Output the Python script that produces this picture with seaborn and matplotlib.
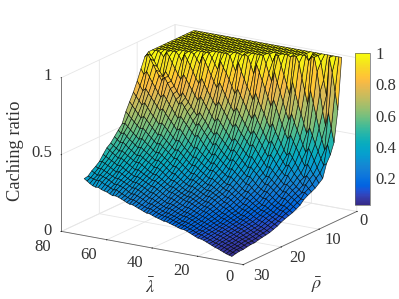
import numpy as np
import matplotlib
matplotlib.use("Agg")
import matplotlib.pyplot as plt
import seaborn as sns
from matplotlib.cm import ScalarMappable
from matplotlib.colors import Normalize

lambda_values = [5, 6.25, 7.5, 8.75, 10, 11.25, 12.5, 13.75, 15, 16.25, 17.5, 18.75, 20, 21.25, 22.5, 23.75, 25,
                 26.25, 27.5, 28.75, 30, 31.25, 32.5, 33.75, 35, 36.25, 37.5, 38.75, 40, 41.25, 42.5, 43.75, 45,
                 46.25, 47.5, 48.75, 50, 51.25, 52.5, 53.75, 55, 56.25, 57.5, 58.75, 60, 61.25, 62.5, 63.75, 65,
                 66.25, 67.5, 68.75, 70]
rho_values = list(range(1, 31))

# one row per rho, one column per lambda
# rows near the top stop early: the rest of the row sits on the plateau at 1
caching_ratio = [
    [1],
    [.67, .79, .91, 1, .75, .85, .96, 1, 1, 1, .93],
    [.47, .56, .66, .57, .66, .78, .91, 1, 1, .97],
    [.40, .465, .425, .49, .56, .64, .72, .80, .705, .79, .87, .96, 1, 1, .99],
    [.355, .34, .38, .425, .47, .52, .57, .53, .59, .65, .71, .78, .85, .76, .82, .88, .94, 1, 1, .95],
    [.27, .30, .335, .375, .415, .45, .42, .465, .51, .555, .60, .655, .61, .66, .72, .78, .84, .91, .84, .89, .95],
    [.25, .28, .30, .33, .36, .345, .38, .42, .455, .49, .53, .50, .54, .59, .635, .69, .74, .695, .75, .80, .85, .90, .95, .885, .94, .99, 1, .99],
    [.23, .25, .28, .30, .285, .31, .34, .37, .40, .43, .41, .44, .48, .515, .55, .60, .57, .61, .655, .69, .73, .78, .73, .775, .81, .855, .90, .955, .895, .94, .99],
    [.217, .235, .256, .25, .273, .292, .313, .339, .365, .354, .38, .405, .434, .465, .50, .483, .517, .55, .585, .62, .657, .622, .653, .69, .725, .76, .80, .766, .81, .85, .89, .92, .96, .90, .935, .97],
    [.205, .221, .216, .234, .248, .267, .284, .312, .308, .327, .347, .373, .40, .426, .413, .44, .476, .504, .532, .561, .538, .566, .595, .625, .655, .691, .663, .693, .724, .761, .798, .836, .798, .834, .873, .912, .952, .987, .932, .961, .99],
    [.19, .19, .205, .22, .237, .252, .269, .265, .284, .304, .322, .342, .362, .357, .382, .407, .433, .46, .486, .473, .50, .522, .544, .572, .60, .579, .607, .636, .665, .694, .725, .695, .724, .755, .786, .822, .859, .82, .852, .889, .926, .96, .993, .946, .979],
    [.165, .178, .194, .206, .219, .234, .232, .247, .263, .279, .296, .315, .31, .33, .354, .374, .398, .423, .416, .436, .457, .478, .50, .521, .503, .53, .556, .581, .607, .632, .61, .637, .666, .694, .724, .753, .726, .755, .785, .815, .846, .877, .842, .872, .904, .938, .975, 1, .968, .99, 1, 1, 1],
    [.152, .164, .176, .19, .206, .204, .216, .231, .247, .262, .278, .276, .295, .314, .333, .351, .371, .364, .383, .403, .423, .443, .463, .451, .471, .492, .513, .534, .556, .538, .56, .586, .614, .638, .664, .642, .668, .693, .719, .745, .773, .747, .776, .805, .835, .862, .891, .856, .884, .914, .946, .977, 1],
    [.139, .151, .163, .175, .175, .187, .199, .214, .229, .244, .243, .256, .268, .286, .305, .324, .321, .339, .358, .377, .397, .414, .403, .42, .438, .457, .478, .499, .486, .509, .533, .557, .582, .608, .591, .618, .644, .67, .697, .726, .709, .738, .77, .801, .834, .867, .843, .872, .903, .936, .972, 1, .977],
    [.131, .142, .154, .156, .167, .176, .186, .2, .215, .214, .226, .239, .251, .269, .287, .287, .305, .32, .336, .352, .369, .362, .379, .394, .412, .428, .446, .435, .453, .475, .497, .521, .546, .535, .558, .58, .603, .625, .649, .634, .66, .687, .713, .743, .769, .75, .778, .807, .835, .867, .901, .878, .912],
    [.122, .131, .134, .143, .152, .161, .172, .184, .185, .197, .209, .224, .239, .254, .254, .269, .284, .299, .315, .331, .327, .34, .353, .369, .385, .402, .395, .411, .428, .444, .461, .482, .474, .494, .514, .537, .561, .583, .571, .595, .62, .641, .666, .692, .679, .703, .726, .751, .776, .804, .787, .815, .844],
    [.112, .115, .125, .134, .144, .154, .164, .166, .178, .189, .201, .213, .225, .227, .242, .254, .266, .281, .296, .293, .306, .321, .337, .353, .368, .362, .375, .388, .402, .417, .434, .43, .449, .465, .482, .502, .523, .515, .535, .556, .577, .597, .615, .605, .627, .65, .672, .699, .725, .71, .734, .758, .783],
    [.098, .107, .117, .125, .135, .145, .147, .158, .169, .178, .187, .199, .201, .215, .229, .241, .253, .268, .27, .282, .294, .306, .319, .331, .328, .341, .354, .366, .38, .395, .391, .406, .422, .441, .459, .476, .47, .487, .504, .521, .539, .556, .549, .569, .59, .612, .633, .653, .64, .662, .686, .708, .732],
    [.089, .098, .107, .116, .125, .13, .139, .148, .159, .169, .179, .181, .193, .204, .217, .229, .242, .243, .257, .268, .279, .29, .302, .30, .311, .323, .334, .346, .358, .355, .37, .385, .40, .416, .433, .431, .449, .464, .48, .495, .512, .505, .521, .538, .556, .574, .592, .585, .603, .621, .64, .66, .679],
    [.08, .089, .098, .107, .111, .12, .13, .139, .149, .158, .16, .169, .179, .192, .205, .219, .223, .236, .25, .259, .27, .28, .278, .288, .299, .309, .32, .331, .327, .339, .353, .367, .382, .397, .395, .411, .427, .44, .454, .469, .463, .477, .493, .507, .523, .539, .531, .547, .563, .581, .6, .618, .61],
    [.075, .084, .094, .098, .107, .117, .125, .134, .144, .147, .156, .166, .176, .188, .2, .204, .216, .228, .241, .249, .259, .257, .267, .276, .286, .295, .305, .302, .312, .323, .335, .348, .364, .364, .378, .393, .408, .421, .434, .429, .443, .456, .469, .482, .497, .49, .505, .52, .534, .551, .57, .563, .582],
    [.071, .079, .086, .094, .103, .112, .121, .129, .133, .141, .15, .158, .167, .178, .182, .193, .204, .216, .227, .236, .236, .245, .254, .263, .272, .281, .28, .289, .299, .31, .322, .334, .335, .348, .362, .376, .39, .401, .399, .413, .424, .435, .448, .46, .454, .467, .482, .494, .51, .524, .519, .535, .551],
    [.066, .072, .081, .09, .098, .107, .117, .12, .129, .137, .145, .153, .162, .166, .176, .187, .197, .208, .218, .219, .228, .236, .246, .254, .264, .263, .271, .279, .288, .298, .308, .308, .321, .333, .345, .357, .37, .369, .379, .39, .403, .415, .428, .425, .434, .447, .459, .471, .483, .479, .494, .507, .521],
    [.059, .067, .077, .085, .094, .104, .108, .116, .123, .13, .138, .145, .148, .158, .168, .178, .189, .199, .202, .211, .22, .228, .237, .246, .246, .255, .262, .271, .279, .288, .289, .30, .311, .321, .333, .345, .344, .355, .365, .374, .385, .395, .392, .404, .415, .427, .439, .451, .448, .462, .474, .488, .502],
    [.059, .067, .075, .083, .091, .096, .104, .111, .118, .126, .134, .137, .145, .154, .163, .172, .181, .184, .193, .201, .209, .217, .225, .225, .233, .24, .249, .257, .266, .265, .276, .285, .297, .307, .319, .32, .331, .34, .349, .358, .367, .364, .374, .384, .395, .407, .419, .416, .429, .439, .449, .459, .47],
    [.055, .063, .071, .078, .084, .092, .10, .106, .114, .122, .125, .132, .14, .147, .156, .164, .168, .176, .185, .191, .2, .208, .209, .216, .224, .232, .239, .245, .245, .253, .263, .272, .284, .294, .295, .306, .317, .326, .334, .343, .342, .35, .359, .37, .38, .392, .387, .398, .409, .419, .429, .438, .435],
    [.05, .058, .066, .072, .079, .087, .095, .102, .11, .114, .121, .128, .135, .143, .152, .155, .164, .172, .18, .187, .195, .195, .201, .208, .216, .223, .23, .229, .236, .244, .254, .262, .273, .274, .284, .293, .304, .312, .32, .319, .329, .338, .347, .355, .363, .363, .371, .38, .389, .398, .408, .406, .415],
    [.05, .057, .062, .07, .078, .084, .091, .097, .101, .109, .118, .124, .131, .138, .14, .149, .159, .165, .171, .177, .178, .187, .195, .20, .206, .213, .213, .22, .229, .237, .245, .252, .252, .263, .273, .281, .289, .296, .295, .305, .317, .326, .332, .34, .337, .349, .359, .367, .373, .381, .376, .387, .398],
    [.0455, .051, .0575, .065, .072, .079, .086, .0905, .097, .105, .112, .119, .127, .13, .137, .145, .152, .159, .167, .169, .176, .182, .188, .195, .202, .203, .208, .214, .22, .228, .236, .236, .243, .251, .258, .267, .274, .275, .283, .291, .30, .309, .319, .316, .324, .334, .34, .35, .361, .357, .363, .368, .375],
    [.0395, .0447, .05, .0576, .0655, .0734, .079, .087, .095, .103, .111, .116, .1185, .127, .135, .143, .151, .157, .158, .164, .17, .175, .181, .187, .188, .194, .2, .205, .212, .219, .22, .227, .235, .242, .25, .257, .258, .265, .274, .282, .29, .295, .293, .301, .31, .314, .32, .33, .328, .334, .345, .358, .37],
]

lambda_ticks = [0, 20, 40, 60, 80]
rho_ticks = [0, 10, 20, 30]
ratio_ticks = [0, 0.5, 1]
ratio_tick_labels = ["0", "0.5", "1"]
bar_ticks = [0.2, 0.4, 0.6, 0.8, 1]
bar_tick_labels = ["0.2", "0.4", "0.6", "0.8", "1"]

# parula, anchors taken every few steps
parula_anchors = [
    (0.2081, 0.1663, 0.5292), (0.2123, 0.2138, 0.6270), (0.1959, 0.2645, 0.7279), (0.1253, 0.3242, 0.8303),
    (0.0117, 0.3875, 0.8820), (0.0165, 0.4266, 0.8786), (0.0498, 0.4586, 0.8641), (0.0723, 0.4887, 0.8467),
    (0.0793, 0.5200, 0.8312), (0.0641, 0.5570, 0.8240), (0.0343, 0.5966, 0.8199), (0.0239, 0.6287, 0.8038),
    (0.0228, 0.6535, 0.7768), (0.0384, 0.6743, 0.7436), (0.0843, 0.6928, 0.7062), (0.1453, 0.7098, 0.6646),
    (0.2178, 0.7250, 0.6193), (0.3022, 0.7376, 0.5712), (0.3953, 0.7459, 0.5244), (0.4871, 0.7491, 0.4840),
    (0.5709, 0.7485, 0.4494), (0.6473, 0.7456, 0.4188), (0.7184, 0.7411, 0.3905), (0.7858, 0.7356, 0.3633),
    (0.8507, 0.7299, 0.3360), (0.9139, 0.7258, 0.3063), (0.9739, 0.7314, 0.2666), (0.9990, 0.7653, 0.2164),
    (0.9880, 0.8066, 0.1794), (0.9697, 0.8481, 0.1475), (0.9589, 0.8949, 0.1132), (0.9661, 0.9514, 0.0755),
    (0.9763, 0.9831, 0.0538),
]

sns.set_style("white")
plt.rcParams["font.family"] = ["Liberation Serif", "DejaVu Serif"]
plt.rcParams["mathtext.fontset"] = "stix"

parula = sns.blend_palette(parula_anchors, n_colors=256, as_cmap=True)
norm = Normalize(0.03, 1)
text_color = (0.2, 0.2, 0.2)


def label_at(x_px, y_px, text, **kw):
    kw.setdefault("ha", "center")
    kw.setdefault("fontsize", 12)
    fig.text(x_px / 399, 1 - y_px / 299, text, va="center", color=text_color, **kw)


fig = plt.figure(figsize=(3.99, 2.99), dpi=100)
ax = fig.add_axes([0.014, 0.003, 1.0, 1.0], projection="3d", proj_type="ortho")
ax.set_box_aspect((1, 1, 0.75), zoom=1.114)
ax.view_init(elev=17, azim=122)

X, Y = np.meshgrid(lambda_values, rho_values)
Z = np.array([row + [1] * (len(lambda_values) - len(row)) for row in caching_ratio], dtype=float)
ax.plot_surface(X, Y, Z, cmap=parula, norm=norm, rstride=1, cstride=1,
                edgecolor=(0, 0, 0, 0.85), linewidth=0.45, antialiased=True, shade=False)

ax.set_xlim(0, 80, view_margin=0)
ax.set_ylim(0, 30, view_margin=0)
ax.set_zlim(0, 1, view_margin=0)
ax.set_xticks(lambda_ticks, [""] * len(lambda_ticks))
ax.set_yticks(rho_ticks, [""] * len(rho_ticks))
ax.set_zticks(ratio_ticks, [""] * len(ratio_ticks))
ax.zaxis.set_ticks_position("upper")

for axis in (ax.xaxis, ax.yaxis, ax.zaxis):
    axis.set_pane_color((1, 1, 1, 0))
    axis.pane.set_edgecolor((1, 1, 1, 0))
    axis.line.set_color((0.4, 0.4, 0.4))
    axis.line.set_linewidth(0.6)
    axis._axinfo["grid"].update(color=(0.9, 0.9, 0.9), linewidth=0.6)
    axis._axinfo["tick"].update(inward_factor=0.03, outward_factor=0.0, color=(0.4, 0.4, 0.4))

# tick labels sit where the reference has them
for tick, x_px, y_px in zip(lambda_ticks, [230, 181, 135, 89, 43], [277, 271, 263, 255, 247]):
    label_at(x_px, y_px, str(tick))
for tick, x_px, y_px in zip(rho_ticks, [364, 333, 297, 261], [221, 240, 258, 276]):
    label_at(x_px, y_px, str(tick))
for text, y_px in zip(ratio_tick_labels, [231, 153, 76]):
    label_at(52, y_px, text, ha="right")
label_at(150, 287, r"$\bar{\lambda}$", fontsize=13)
label_at(317, 285, r"$\bar{\rho}$", fontsize=13)
label_at(16, 151, "Caching ratio", fontsize=13.3, rotation=90)

cax = fig.add_axes([355 / 399, 1 - 205 / 299, 15 / 399, 152 / 299])
bar = fig.colorbar(ScalarMappable(norm=norm, cmap=parula), cax=cax)
bar.set_ticks(bar_ticks, labels=bar_tick_labels)
bar.ax.tick_params(labelsize=12, colors=text_color, length=0, pad=4)
bar.outline.set_edgecolor((0.4, 0.4, 0.4))
bar.outline.set_linewidth(0.5)

fig.savefig("out.png", dpi=100)
